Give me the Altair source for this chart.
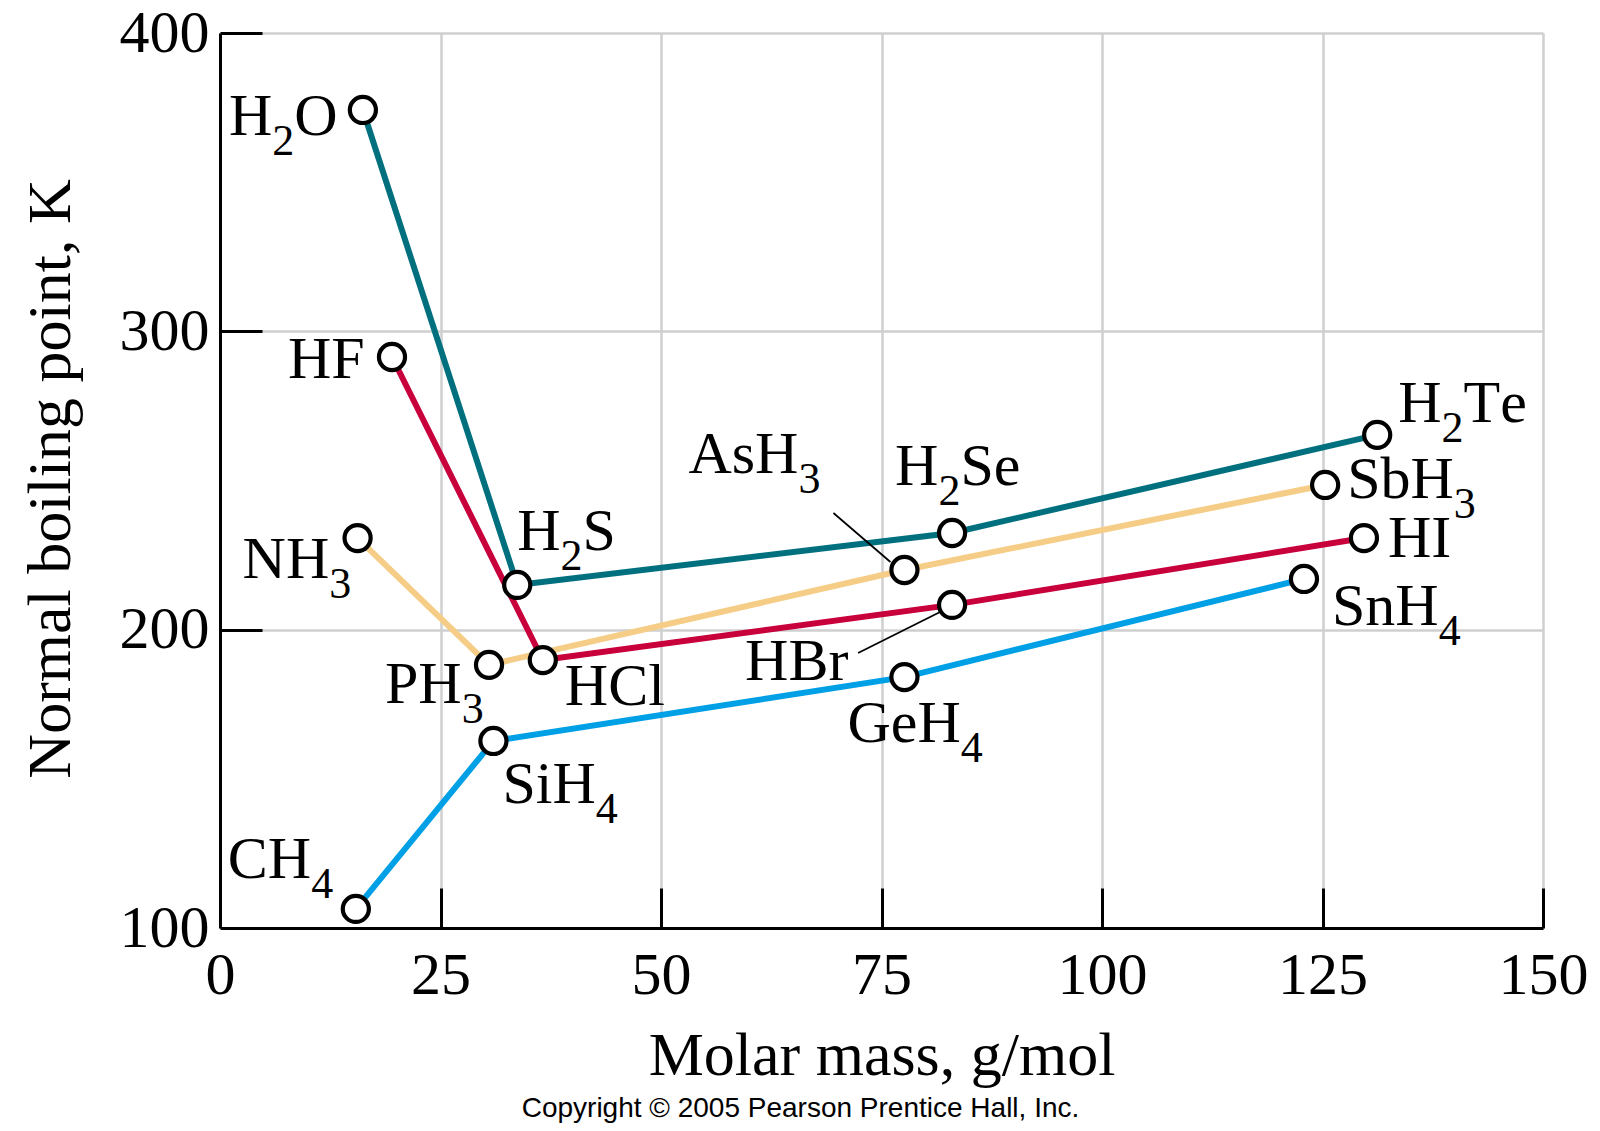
import altair as alt
import pandas as pd

# ---------------- data ----------------
compounds = ["H2O", "H2S", "H2Se", "H2Te", "HF", "HCl", "HBr", "HI",
             "NH3", "PH3", "AsH3", "SbH3", "CH4", "SiH4", "GeH4", "SnH4"]
labels = ["H_2O", "H_2S", "H_2Se", "H_2Te", "HF", "HCl", "HBr", "HI",
          "NH_3", "PH_3", "AsH_3", "SbH_3", "CH_4", "SiH_4", "GeH_4", "SnH_4"]
molar_mass = [16.2, 33.7, 83.0, 131.2, 19.5, 36.6, 83.0, 129.7,
              15.6, 30.5, 77.6, 125.3, 15.4, 31.0, 77.6, 122.9]
boiling_point = [374.2, 215.0, 232.4, 265.3, 291.4, 189.8, 208.3, 230.7,
                 230.7, 188.2, 220.0, 248.5, 106.4, 162.7, 184.1, 217.0]
groups = ["16"] * 4 + ["17"] * 4 + ["15"] * 4 + ["14"] * 4
group_order = ["16", "17", "15", "14"]
group_colors = ["#00707F", "#C8003C", "#F5CD87", "#00A0E6"]
x_ticks = [0, 25, 50, 75, 100, 125, 150]
y_ticks = [100, 200, 300, 400]
x_title = "Molar mass, g/mol"
y_title = "Normal boiling point, K"
credit = "Copyright \u00a9 2005 Pearson Prentice Hall, Inc."

# ---------------- layout / style ----------------
W, H = 1323, 895
XDOM, YDOM = [0, 150], [100, 400]
KX = W / (XDOM[1] - XDOM[0])
KY = H / (YDOM[1] - YDOM[0])
SERIF = "Liberation Serif"
MAIN_FS, SUB_FS, SUB_DROP = 60, 44, 20
TITLE_FS = 62

# label placement: left edge / baseline offset from point centre, in px
label_dx = [-134, 0, -57, 21, -104, 22, -207, 24, -115, -104, -216, 22, -128, 9, -57, 28]
label_dy = [25, -35, -48, -13, 21, 45, 75, 19, 40, 38, -97, 13, -31, 62, 65, 46]
# leader lines (px offsets from point centre): compound -> (x1, y1, x2, y2)
leaders = {"AsH3": (-71, -57, -14, -8), "HBr": (-94, 48, -12, 7)}

# Times / Liberation Serif advance widths (per 1000 em)
adv = {"H": 722, "O": 722, "S": 556, "e": 444, "T": 611, "F": 556, "C": 667,
       "l": 278, "B": 667, "r": 333, "I": 333, "N": 722, "P": 556, "A": 722,
       "s": 389, "b": 500, "i": 278, "G": 722, "n": 500}
for d in "0123456789":
    adv[d] = 500

df = pd.DataFrame({"compound": compounds, "mass": molar_mass,
                   "bp": boiling_point, "group": groups})

runs = []
for lab, m, b, dx, dy in zip(labels, molar_mass, boiling_point, label_dx, label_dy):
    cur = dx
    sub = False
    for ch in lab:
        if ch == "_":
            sub = True
            continue
        fs = SUB_FS if sub else MAIN_FS
        runs.append({"t": ch, "kind": "sub" if sub else "main",
                     "x": m + cur / KX, "y": b - dy / KY})
        cur += adv[ch] * fs / 1000.0
        sub = False
runs = pd.DataFrame(runs)

lead_rows = []
for c, (x1, y1, x2, y2) in leaders.items():
    i = compounds.index(c)
    m, b = molar_mass[i], boiling_point[i]
    lead_rows.append({"x1": m + x1 / KX, "y1": b - y1 / KY,
                      "x2": m + x2 / KX, "y2": b - y2 / KY})
lead_df = pd.DataFrame(lead_rows)

xscale = alt.Scale(domain=XDOM, nice=False, zero=False)
yscale = alt.Scale(domain=YDOM, nice=False, zero=False)

GRID = "#cfcfcf"

main_x_axis = alt.Axis(values=x_ticks, orient="bottom", grid=True, gridColor=GRID,
                       gridWidth=2.5, ticks=False, tickSize=0, domain=True,
                       domainColor="black", domainWidth=3, labelFont=SERIF,
                       labelFontSize=MAIN_FS, labelColor="black", labelPadding=18,
                       labelFlush=False, title=x_title, titleFont=SERIF,
                       titleFontSize=TITLE_FS, titleFontWeight="normal",
                       titleColor="black", titleX=W / 2, titleY=146,
                       titleBaseline="alphabetic", titleAlign="center")
main_y_axis = alt.Axis(values=y_ticks, orient="left", grid=True, gridColor=GRID,
                       gridWidth=2.5, ticks=False, tickSize=0, domain=True,
                       domainColor="black", domainWidth=3, labelFont=SERIF,
                       labelFontSize=MAIN_FS, labelColor="black", labelPadding=11,
                       labelFlush=False, labelBaseline="middle", title=y_title,
                       titleFont=SERIF, titleFontSize=TITLE_FS,
                       titleFontWeight="normal", titleColor="black",
                       titleAngle=270, titleX=-151, titleY=H / 2 - 2,
                       titleBaseline="alphabetic", titleAlign="center")
tick_x_axis = alt.Axis(values=x_ticks[1:], orient="top", offset=-H, grid=False,
                       labels=False, domain=False, ticks=True, tickSize=40,
                       tickWidth=3, tickColor="black", title=None)
tick_y_axis = alt.Axis(values=y_ticks[1:], orient="right", offset=-W, grid=False,
                       labels=False, domain=False, ticks=True, tickSize=42,
                       tickWidth=3, tickColor="black", title=None)

lines = alt.Chart(df).mark_line(strokeWidth=6).encode(
    x=alt.X("mass:Q", scale=xscale, axis=main_x_axis),
    y=alt.Y("bp:Q", scale=yscale, axis=main_y_axis),
    color=alt.Color("group:N", scale=alt.Scale(domain=group_order, range=group_colors),
                    legend=None),
)

lead = alt.Chart(lead_df).mark_rule(color="black", strokeWidth=1.7).encode(
    x=alt.X("x1:Q", scale=xscale, axis=None),
    y=alt.Y("y1:Q", scale=yscale, axis=None),
    x2="x2:Q", y2="y2:Q",
)

points = alt.Chart(df).mark_point(shape="circle", filled=True, fill="white",
                                  stroke="black", strokeWidth=4.2, size=680,
                                  opacity=1).encode(
    x=alt.X("mass:Q", scale=xscale, axis=tick_x_axis),
    y=alt.Y("bp:Q", scale=yscale, axis=tick_y_axis),
)

text_main = alt.Chart(runs[runs["kind"] == "main"]).mark_text(
    align="left", baseline="alphabetic", font=SERIF, fontSize=MAIN_FS, color="black"
).encode(
    x=alt.X("x:Q", scale=xscale, axis=None),
    y=alt.Y("y:Q", scale=yscale, axis=None),
    text="t:N",
)

text_sub = alt.Chart(runs[runs["kind"] == "sub"]).mark_text(
    align="left", baseline="alphabetic", font=SERIF, fontSize=SUB_FS, dy=SUB_DROP,
    color="black"
).encode(
    x=alt.X("x:Q", scale=xscale, axis=None),
    y=alt.Y("y:Q", scale=yscale, axis=None),
    text="t:N",
)

chart = alt.layer(lines, lead, points, text_main, text_sub).resolve_axis(
    x="independent", y="independent"
).properties(
    width=W, height=H,
    autosize=alt.AutoSizeParams(type="none"),
    padding={"left": 212, "top": 25, "right": 49, "bottom": 195},
    title=alt.TitleParams(credit, orient="bottom", anchor="middle", frame="group",
                          dx=-81, offset=9, font="Liberation Sans", fontSize=28,
                          fontWeight="normal", color="black", baseline="top"),
).configure_view(stroke=None).configure(background="white")

chart.save("out.html", embed_options={"renderer": "svg", "actions": False})
